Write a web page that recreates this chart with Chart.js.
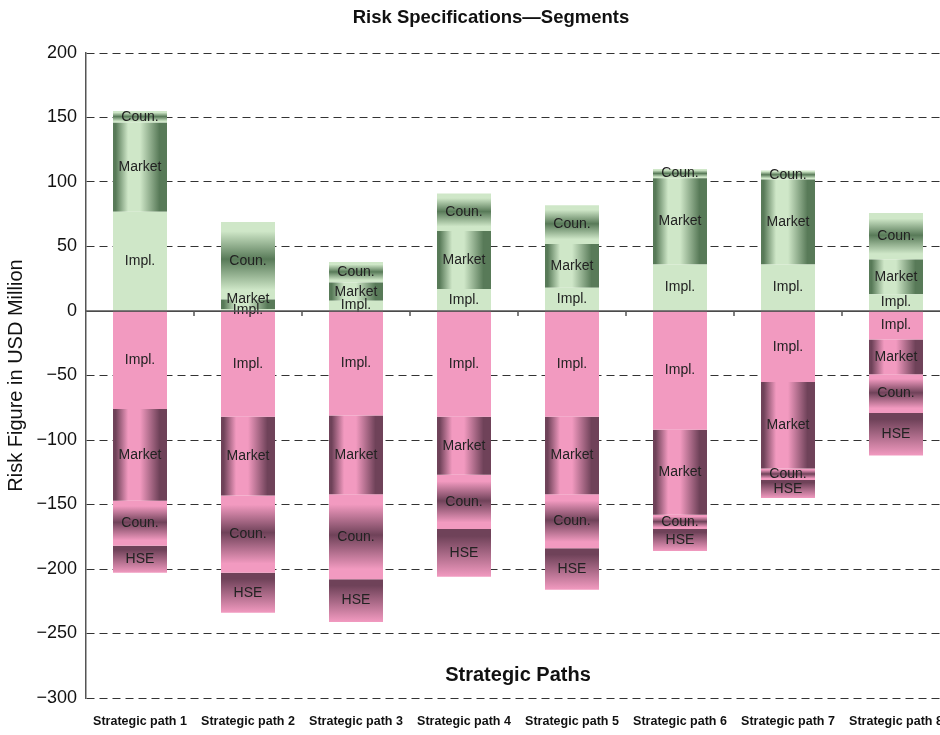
<!DOCTYPE html>
<html>
<head>
<meta charset="utf-8">
<script src="https://cdn.jsdelivr.net/npm/chart.js@4.4.1/dist/chart.umd.min.js"></script>
<style>
  html, body { margin: 0; padding: 0; background: #ffffff; overflow: hidden; }
  #wrap { width: 960px; height: 735px; }
</style>
</head>
<body>
<div id="wrap"><canvas id="chart" width="960" height="735"></canvas></div>
<script>
// Categories and segment values (USD million). Upside segments are positive,
// downside segments negative; each list runs path 1 .. path 8.
const categories = ['Strategic path 1', 'Strategic path 2', 'Strategic path 3', 'Strategic path 4',
                    'Strategic path 5', 'Strategic path 6', 'Strategic path 7', 'Strategic path 8'];
const implUp     = [77, 1.5, 8, 17, 18, 36, 36, 13];
const marketUp   = [69, 7.5, 14, 45, 34, 67, 66, 27];
const counUp     = [9, 60, 16, 29, 30, 7, 7, 36];
const implDown   = [-76, -82, -81, -82, -82, -92, -55, -22];
const marketDown = [-71, -61, -61, -45, -60, -66, -67, -27];
const counDown   = [-35, -60, -66, -42, -42, -11, -9, -30];
const hseDown    = [-21, -31, -33, -37, -32, -17, -14, -33];
const yTicks = { min: -300, max: 200, step: 50 };

const chartTitle = 'Risk Specifications\u2014Segments';
const xTitle = 'Strategic Paths';
const yTitle = 'Risk Figure in USD Million';

const GREEN_LIGHT = '#cfe7c8';
const GREEN_DARK = '#587a58';
const PINK = '#f29ac0';
const PINK_DARK = '#6f4259';

// Pixel box of one stacked segment, taken from the chart's own scales.
function segmentBox(ctx) {
  const chart = ctx.chart;
  const xs = chart.scales.x, ys = chart.scales.y;
  const i = ctx.dataIndex, d = ctx.datasetIndex;
  const sets = chart.data.datasets;
  const v = sets[d].data[i];
  let start = 0;
  for (let k = 0; k < d; k++) {
    const w = sets[k].data[i];
    if ((w < 0) === (v < 0)) start += w;
  }
  const cat = xs.width / chart.data.labels.length;
  const half = cat * 0.5 / 2;
  const cx = xs.getPixelForValue(i);
  const ya = ys.getPixelForValue(start), yb = ys.getPixelForValue(start + v);
  return { x0: cx - half, x1: cx + half, top: Math.min(ya, yb), bottom: Math.max(ya, yb) };
}

function segmentFill(kind, light, dark) {
  return function (ctx) {
    const chart = ctx.chart;
    if (kind === 'flat' || !chart.chartArea || ctx.type !== 'data' || !chart.scales.y) return light;
    const b = segmentBox(ctx);
    const c = chart.ctx;
    let g;
    if (kind === 'cylinder') {
      g = c.createLinearGradient(b.x0, 0, b.x1, 0);
      g.addColorStop(0, dark);
      g.addColorStop(0.05, dark);
      g.addColorStop(0.28, light);
      g.addColorStop(0.5, light);
      g.addColorStop(0.86, dark);
      g.addColorStop(1, dark);
    } else if (kind === 'band') {
      g = c.createLinearGradient(0, b.top, 0, Math.max(b.bottom, b.top + 1));
      g.addColorStop(0, light);
      g.addColorStop(0.12, light);
      g.addColorStop(0.48, dark);
      g.addColorStop(0.88, light);
      g.addColorStop(1, light);
    } else {
      g = c.createLinearGradient(0, b.top, 0, Math.max(b.bottom, b.top + 1));
      g.addColorStop(0, dark);
      g.addColorStop(0.15, dark);
      g.addColorStop(1, light);
    }
    return g;
  };
}

function seg(label, data, kind, light, dark) {
  return {
    label: label,
    data: data,
    backgroundColor: segmentFill(kind, light, dark),
    borderWidth: 0,
    categoryPercentage: 1.0,
    barPercentage: 0.5
  };
}

// Segment names written inside each bar piece, pushed apart when pieces are thin.
const segmentLabels = {
  id: 'segmentLabels',
  afterDatasetsDraw(chart) {
    const c = chart.ctx;
    const groups = {};
    chart.data.datasets.forEach((ds, d) => {
      const meta = chart.getDatasetMeta(d);
      meta.data.forEach((el, i) => {
        const v = ds.data[i];
        const p = el.getProps(['x', 'y', 'base'], true);
        const key = i + (v < 0 ? 'n' : 'p');
        (groups[key] = groups[key] || []).push({ x: p.x, y: (p.y + p.base) / 2, text: ds.label, neg: v < 0 });
      });
    });
    c.save();
    c.font = '14px "Liberation Sans", Arial, sans-serif';
    c.fillStyle = '#222222';
    c.textAlign = 'center';
    c.textBaseline = 'middle';
    const gap = 11;
    Object.values(groups).forEach(list => {
      for (let k = 1; k < list.length; k++) {
        const prev = list[k - 1], cur = list[k];
        if (cur.neg) { if (cur.y - prev.y < gap) cur.y = prev.y + gap; }
        else { if (prev.y - cur.y < gap) cur.y = prev.y - gap; }
      }
      list.forEach(l => c.fillText(l.text, l.x, l.y));
    });
    c.restore();
  }
};

// Zero line with category separators, plus the chart and axis titles.
const frame = {
  id: 'frame',
  afterDatasetsDraw(chart) {
    const c = chart.ctx, area = chart.chartArea;
    const xs = chart.scales.x, ys = chart.scales.y;
    const y0 = ys.getPixelForValue(0);
    c.save();
    c.strokeStyle = '#555555';
    c.lineWidth = 1.5;
    c.beginPath();
    c.moveTo(area.left, y0);
    c.lineTo(area.right, y0);
    c.stroke();
    const cat = xs.width / chart.data.labels.length;
    c.lineWidth = 1.5;
    for (let k = 1; k < chart.data.labels.length; k++) {
      const x = Math.round(xs.left + k * cat);
      c.beginPath();
      c.moveTo(x, y0);
      c.lineTo(x, y0 + 5);
      c.stroke();
    }
    c.fillStyle = '#111111';
    c.textAlign = 'center';
    c.textBaseline = 'middle';
    c.font = 'bold 20px "Liberation Sans", Arial, sans-serif';
    c.fillText(xTitle, (area.left + area.right) / 2, area.bottom - 23);
    c.font = 'bold 18.5px "Liberation Sans", Arial, sans-serif';
    c.fillText(chartTitle, (area.left + area.right) / 2 - 27, 18);
    c.restore();
  }
};

new Chart(document.getElementById('chart'), {
  type: 'bar',
  data: {
    labels: categories,
    datasets: [
      seg('Impl.', implUp, 'flat', GREEN_LIGHT, GREEN_DARK),
      seg('Market', marketUp, 'cylinder', GREEN_LIGHT, GREEN_DARK),
      seg('Coun.', counUp, 'band', GREEN_LIGHT, GREEN_DARK),
      seg('Impl.', implDown, 'flat', PINK, PINK_DARK),
      seg('Market', marketDown, 'cylinder', PINK, PINK_DARK),
      seg('Coun.', counDown, 'band', PINK, PINK_DARK),
      seg('HSE', hseDown, 'fade', PINK, PINK_DARK)
    ]
  },
  options: {
    responsive: false,
    animation: false,
    layout: { padding: { left: 0, right: 10, top: 53, bottom: 0 } },
    plugins: {
      legend: { display: false },
      title: { display: false },
      tooltip: { enabled: false }
    },
    scales: {
      x: {
        stacked: true,
        grid: { display: false, drawTicks: false },
        border: { display: false },
        ticks: {
          color: '#111111',
          padding: 16,
          maxRotation: 0,
          autoSkip: false,
          font: { family: '"Liberation Sans", Arial, sans-serif', size: 12.5, weight: 'bold' }
        },
        afterFit(scale) { scale.height = 37; }
      },
      y: {
        stacked: true,
        min: yTicks.min,
        max: yTicks.max,
        grid: {
          drawTicks: false,
          color: '#333333',
          lineWidth: 1
        },
        border: {
          display: true,
          color: '#555555',
          width: 1.5,
          dash: c => (c.tick && c.tick.value === 0) ? [] : [8, 5]
        },
        ticks: {
          stepSize: yTicks.step,
          padding: 9,
          color: '#111111',
          font: { family: '"Liberation Sans", Arial, sans-serif', size: 18 },
          callback: v => String(v).replace('-', '\u2212')
        },
        title: {
          display: true,
          text: yTitle,
          color: '#111111',
          padding: { top: 4, bottom: 4 },
          font: { family: '"Liberation Sans", Arial, sans-serif', size: 20 }
        },
        afterFit(scale) { scale.width = 86; }
      }
    }
  },
  plugins: [segmentLabels, frame]
});
</script>
</body>
</html>
